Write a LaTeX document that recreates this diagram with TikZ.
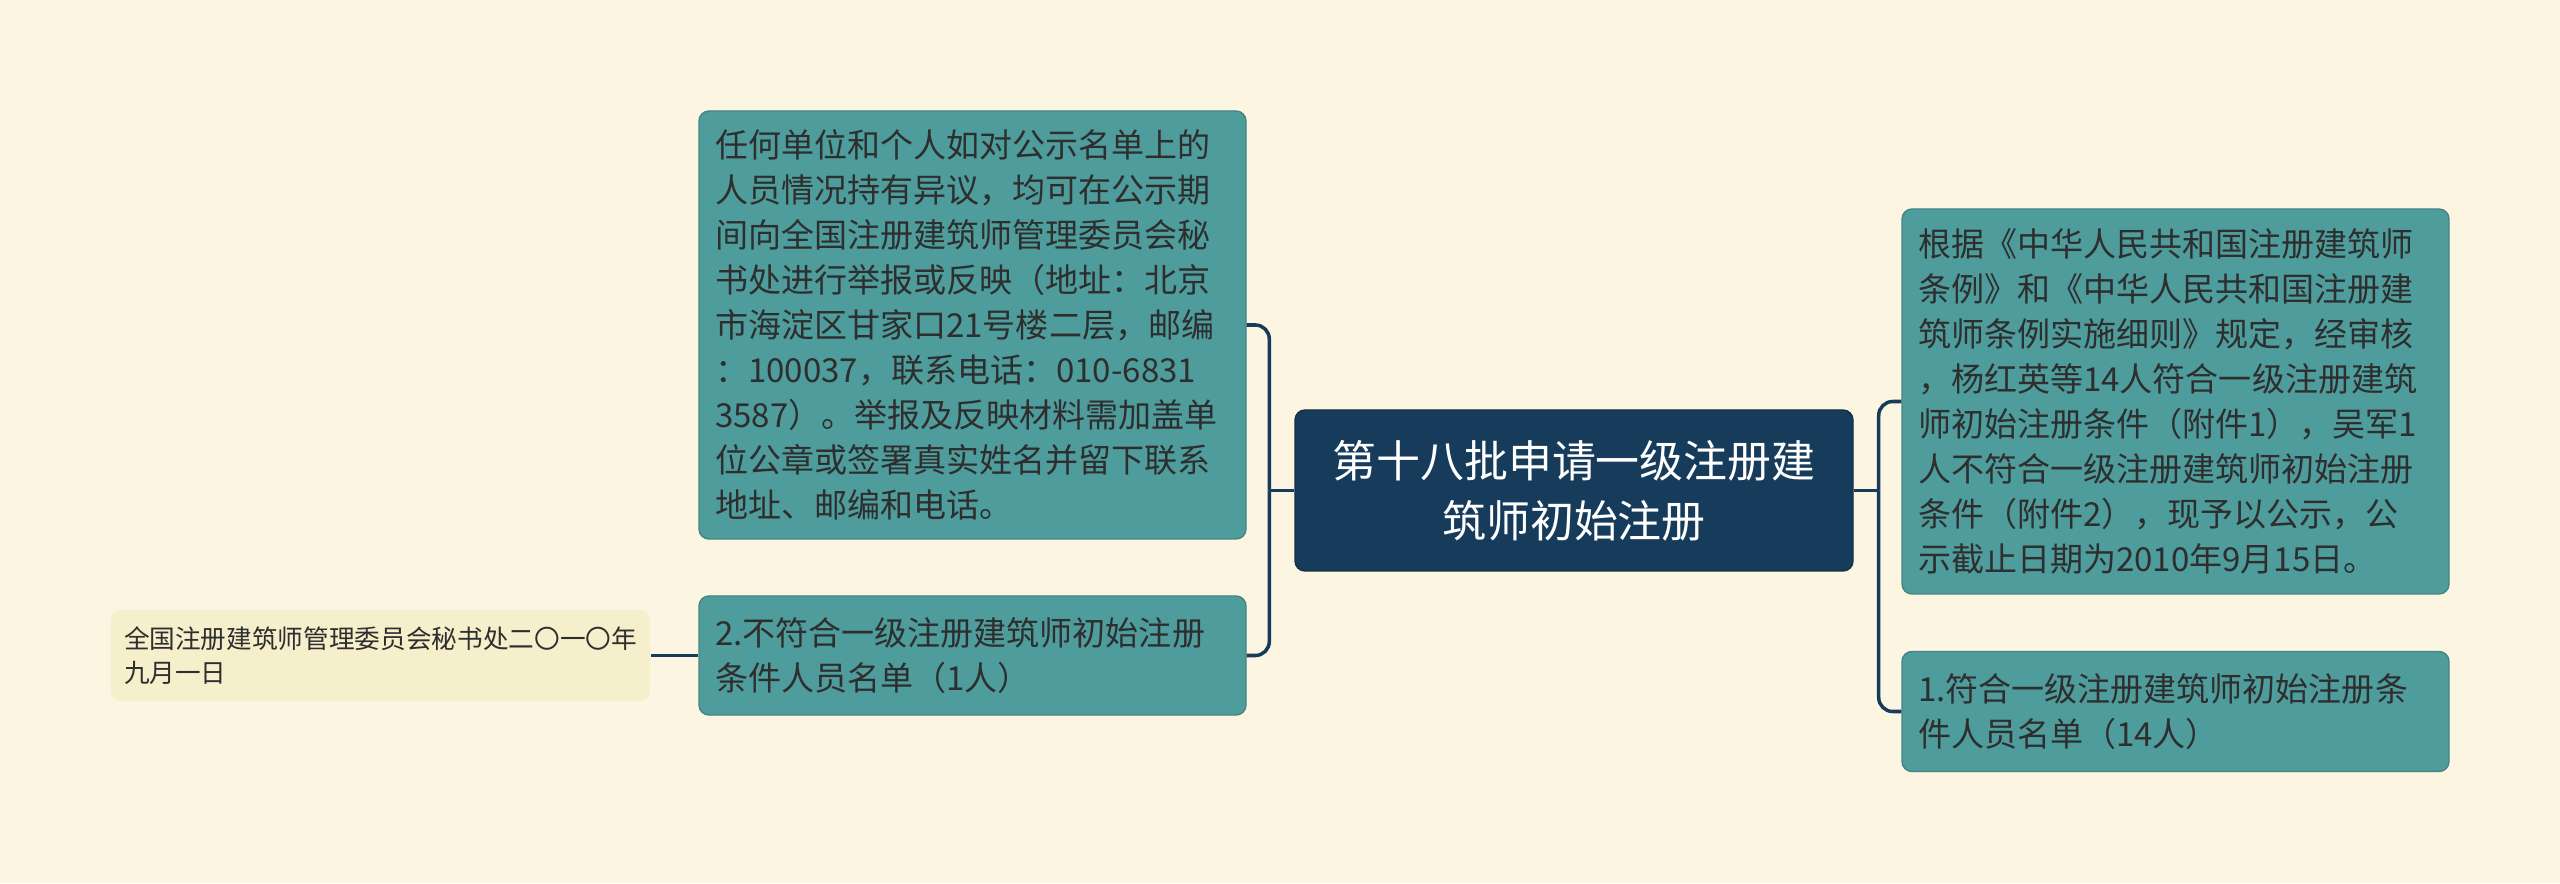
\documentclass[tikz,border=0pt]{standalone}
\usepackage{fontspec}
\setmainfont{Noto Sans CJK SC}
\usepackage{tikz}
\usetikzlibrary{calc}

\definecolor{bgcream}{HTML}{FBF5E1}
\definecolor{tealbox}{HTML}{4F9C9C}
\definecolor{navy}{HTML}{173C5B}
\definecolor{paleyellow}{HTML}{F6EFCC}
\definecolor{inkgray}{HTML}{2E2E2E}

\tikzset{
	topic/.style={draw=tealbox!85!black, line width=0.4pt, fill=tealbox, text=inkgray, rounded corners=0.1cm,
		inner xsep=0.16cm, inner ysep=0cm, align=left, font=\fontsize{9.4pt}{12.8pt}\selectfont},
	rootbox/.style={draw=navy!80!black, line width=0.4pt, fill=navy, text=white, rounded corners=0.1cm,
		align=center, font=\fontsize{12.5pt}{17pt}\selectfont},
	notebox/.style={fill=paleyellow, text=inkgray, rounded corners=0.1cm, inner xsep=0.13cm, inner ysep=0cm,
		align=left, font=\fontsize{7.3pt}{9.7pt}\selectfont},
	link/.style={draw=navy, line width=1pt, rounded corners=0.14cm}
}

\begin{document}
\begin{tikzpicture}
			%%%%% START %%%%%
			
			\fill[bgcream] (0, 0) rectangle (25.6, 8.83);
			\useasboundingbox (0, 0) rectangle (25.6, 8.83);
			
			\node[rootbox, minimum width=5.58cm, minimum height=1.61cm] (root) at (15.74, 3.925)
				{第十八批申请一级注册建\\筑师初始注册};
			
			\node[topic, text width=5.15cm, minimum height=4.28cm] (objection) at (9.725, 5.58)
				{任何单位和个人如对公示名单上的\\人员情况持有异议，均可在公示期\\间向全国注册建筑师管理委员会秘\\书处进行举报或反映（地址：北京\\市海淀区甘家口21号楼二层，邮编\\：100037，联系电话：010-6831\\3587）。举报及反映材料需加盖单\\位公章或签署真实姓名并留下联系\\地址、邮编和电话。};
			
			\node[topic, text width=5.15cm, minimum height=1.19cm] (list2) at (9.725, 2.275)
				{2.不符合一级注册建筑师初始注册\\条件人员名单（1人）};
			
			\node[notebox, text width=5.13cm, minimum height=0.91cm] (signoff) at (3.805, 2.275)
				{全国注册建筑师管理委员会秘书处二〇一〇年\\九月一日};
			
			\node[topic, text width=5.15cm, minimum height=3.85cm] (notice) at (21.755, 4.815)
				{根据《中华人民共和国注册建筑师\\条例》和《中华人民共和国注册建\\筑师条例实施细则》规定，经审核\\，杨红英等14人符合一级注册建筑\\师初始注册条件（附件1），吴军1\\人不符合一级注册建筑师初始注册\\条件（附件2），现予以公示，公\\示截止日期为2010年9月15日。};
			
			\node[topic, text width=5.15cm, minimum height=1.2cm] (list1) at (21.755, 1.715)
				{1.符合一级注册建筑师初始注册条\\件人员名单（14人）};
			
			% left bracket
			\coordinate (lj) at ($(root.west)+(-0.25, 0)$);
			\draw[link] (root.west) -- (lj);
			\draw[link] (lj) |- (objection.east);
			\draw[link] (lj) |- (list2.east);
			\draw[link] (signoff.east) -- (list2.west);
			
			% right bracket
			\coordinate (rj) at ($(root.east)+(0.25, 0)$);
			\draw[link] (root.east) -- (rj);
			\draw[link] (rj) |- (notice.west);
			\draw[link] (rj) |- (list1.west);
			
			%%%%% END %%%%%
\end{tikzpicture}
\end{document}
